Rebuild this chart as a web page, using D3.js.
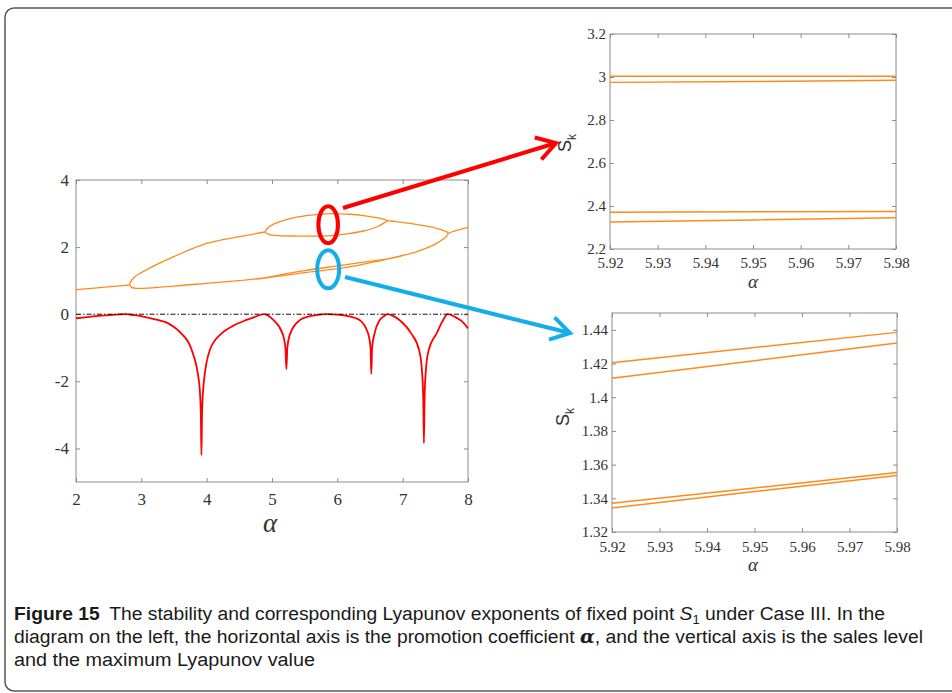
<!DOCTYPE html>
<html>
<head>
<meta charset="utf-8">
<script src="https://cdn.jsdelivr.net/npm/d3@7"></script>
<style>
  body { margin: 0; background: #fff; }
</style>
</head>
<body>
<div id="fig"></div>
<script>
var width = 952, height = 693;

// ---- left panel: bifurcation branches, [alpha, S_k]
var leadIn      = [[2, 0.73], [2.4, 0.80], [2.82, 0.87]];
var p2Upper     = [[2.82, 0.87], [2.84, 0.98], [2.9, 1.12], [3.0, 1.24], [3.2, 1.45], [3.49, 1.71], [4.0, 2.11], [4.5, 2.31], [4.89, 2.45]];
var p4UpTop     = [[4.89, 2.45], [4.95, 2.60], [5.05, 2.71], [5.17, 2.79], [5.4, 2.90], [5.68, 2.97], [5.95, 3.0], [6.19, 2.98], [6.4, 2.94], [6.6, 2.88], [6.72, 2.83], [6.77, 2.79]];
var p4UpBottom  = [[4.89, 2.45], [4.95, 2.38], [5.1, 2.34], [5.4, 2.33], [5.7, 2.33], [5.95, 2.35], [6.2, 2.41], [6.4, 2.48], [6.6, 2.60], [6.77, 2.79]];
var upperRight  = [[6.77, 2.79], [6.9, 2.76], [7.11, 2.71], [7.35, 2.63], [7.52, 2.56], [7.62, 2.50], [7.67, 2.46], [7.70, 2.41]];
var p2Lower     = [[2.82, 0.87], [2.85, 0.80], [2.93, 0.77], [3.5, 0.84], [4.0, 0.92], [4.5, 1.00], [4.89, 1.08]];
var p4LowA      = [[4.89, 1.08], [5.2, 1.20], [5.5, 1.30], [5.95, 1.425], [6.3, 1.52], [6.55, 1.59], [6.76, 1.64]];
var p4LowB      = [[4.89, 1.08], [5.2, 1.16], [5.5, 1.24], [5.95, 1.345], [6.3, 1.45], [6.55, 1.55], [6.76, 1.64]];
var lowerRight  = [[6.76, 1.64], [7.0, 1.75], [7.21, 1.86], [7.4, 2.00], [7.52, 2.11], [7.62, 2.24], [7.67, 2.32], [7.70, 2.41]];
var tail        = [[7.70, 2.41], [7.75, 2.45], [7.85, 2.51], [8, 2.59]];

// ---- left panel: maximum Lyapunov exponent, [alpha, lambda]
var lyap = [[2, -0.12], [2.2, -0.08], [2.4, -0.04], [2.6, -0.01], [2.75, 0], [2.9, -0.03], [3.1, -0.1], [3.25, -0.17],
  [3.39, -0.25], [3.5, -0.38], [3.61, -0.57], [3.77, -1.06], [3.885, -2.05], [3.91, -2.9], [3.92, -4.2], [3.93, -2.9],
  [3.955, -2.05], [4.05, -1.06], [4.23, -0.57], [4.4, -0.35], [4.61, -0.17], [4.75, -0.07], [4.88, 0],
  [4.95, -0.05], [5.02, -0.17], [5.16, -0.57], [5.205, -1.0], [5.22, -1.64], [5.235, -1.0], [5.28, -0.57], [5.43, -0.17],
  [5.55, -0.07], [5.7, -0.02], [5.83, 0], [6.0, -0.01], [6.15, -0.05], [6.34, -0.17], [6.47, -0.57], [6.508, -1.0],
  [6.52, -1.78], [6.532, -1.0], [6.57, -0.57], [6.65, -0.17], [6.72, -0.05], [6.77, 0], [6.85, -0.05], [6.95, -0.17],
  [7.13, -0.57], [7.25, -1.06], [7.29, -1.56], [7.315, -2.5], [7.325, -3.84], [7.335, -2.5], [7.36, -1.56], [7.40, -1.06],
  [7.52, -0.57], [7.62, -0.17], [7.69, 0], [7.8, -0.08], [7.9, -0.2], [8, -0.42]];

// ---- zoomed panels
var zoomAlpha = [5.92, 5.95, 5.98];
var topLines  = [[3.003, 3.003, 3.004], [2.975, 2.979, 2.985], [2.371, 2.373, 2.375], [2.326, 2.335, 2.345]];
var botLines  = [[1.4205, 1.4295, 1.4385], [1.4112, 1.4217, 1.4322], [1.3370, 1.3461, 1.3553], [1.3343, 1.3440, 1.3536]];

// ---- ticks
var leftTicksX = [2, 3, 4, 5, 6, 7, 8];
var leftTicksY = [4, 2, 0, -2, -4];
var zoomTicksX = [5.92, 5.93, 5.94, 5.95, 5.96, 5.97, 5.98];
var topTicksY  = [2.2, 2.4, 2.6, 2.8, 3, 3.2];
var botTicksY  = [1.32, 1.34, 1.36, 1.38, 1.4, 1.42, 1.44];

var orange = "#ff8a1c", red = "#ff0000", blue = "#12aee8";
var serif = "'Liberation Serif', 'Times New Roman', serif";
var sans = "'Liberation Sans', Arial, sans-serif";

var svg = d3.select("#fig").append("svg")
    .attr("width", width)
    .attr("height", height);

// figure frame
svg.append("rect")
    .attr("x", 5).attr("y", 8)
    .attr("width", 980).attr("height", 683)
    .attr("rx", 9)
    .attr("fill", "none")
    .attr("stroke", "#5a5a5a")
    .attr("stroke-width", 1.5);

var fmt = function(d) { return String(+d.toFixed(2)); };

function makePanel(box, xDom, yDom, xTicks, yTicks, fs, padX, padY) {
    var x = d3.scaleLinear().domain(xDom).range([box.left, box.right]);
    var y = d3.scaleLinear().domain(yDom).range([box.bottom, box.top]);
    var g = svg.append("g");
    var t = 4;

    g.append("g").attr("transform", "translate(0," + box.bottom + ")")
        .call(d3.axisBottom(x).tickValues(xTicks).tickSizeInner(-t).tickSizeOuter(0).tickPadding(padX).tickFormat(fmt));
    g.append("g").attr("transform", "translate(0," + box.top + ")")
        .call(d3.axisTop(x).tickValues(xTicks).tickSizeInner(-t).tickSizeOuter(0).tickFormat(""));
    g.append("g").attr("transform", "translate(" + box.left + ",0)")
        .call(d3.axisLeft(y).tickValues(yTicks).tickSizeInner(-t).tickSizeOuter(0).tickPadding(padY).tickFormat(fmt));
    g.append("g").attr("transform", "translate(" + box.right + ",0)")
        .call(d3.axisRight(y).tickValues(yTicks).tickSizeInner(-t).tickSizeOuter(0).tickFormat(""));

    g.selectAll(".domain").remove();
    g.selectAll(".tick line").attr("stroke", "#8c8c8c");
    g.selectAll(".tick text")
        .attr("fill", "#333")
        .style("font-family", serif)
        .style("font-size", fs + "px");

    g.append("rect")
        .attr("x", box.left).attr("y", box.top)
        .attr("width", box.right - box.left)
        .attr("height", box.bottom - box.top)
        .attr("fill", "none")
        .attr("stroke", "#8c8c8c")
        .attr("stroke-width", 1);

    return { x: x, y: y, g: g };
}

// ---------- left panel ----------
var L = makePanel({ left: 76, right: 468, top: 180, bottom: 482 }, [2, 8], [-5, 4],
    leftTicksX, leftTicksY, 17, 11, 7);

var lineL = d3.line()
    .x(function(d) { return L.x(d[0]); })
    .y(function(d) { return L.y(d[1]); })
    .curve(d3.curveCatmullRom.alpha(0.5));

var branches = [leadIn, p2Upper, p4UpTop, p4UpBottom, upperRight, p2Lower, p4LowA, p4LowB, lowerRight, tail];

L.g.selectAll(".branch")
    .data(branches)
    .enter().append("path")
    .attr("class", "branch")
    .attr("d", lineL)
    .attr("fill", "none")
    .attr("stroke", orange)
    .attr("stroke-width", 1.3);

L.g.append("path")
    .datum(lyap)
    .attr("d", d3.line()
        .x(function(d) { return L.x(d[0]); })
        .y(function(d) { return L.y(d[1]); })
        .curve(d3.curveMonotoneX))
    .attr("fill", "none")
    .attr("stroke", red)
    .attr("stroke-width", 1.8);

L.g.append("line")
    .attr("x1", L.x(2)).attr("x2", L.x(8))
    .attr("y1", L.y(0)).attr("y2", L.y(0))
    .attr("stroke", "#111")
    .attr("stroke-width", 1)
    .attr("stroke-dasharray", "5,2,1.5,2");

svg.append("text")
    .attr("x", L.x(5) - 2).attr("y", 532)
    .attr("text-anchor", "middle")
    .style("font-family", serif)
    .style("font-style", "italic")
    .style("font-size", "27px")
    .attr("fill", "#333")
    .text("α");

// ---------- right panels ----------
var T = makePanel({ left: 610, right: 896, top: 34, bottom: 249 }, [5.92, 5.98], [2.2, 3.2],
    zoomTicksX, topTicksY, 15, 8, 4);
var B = makePanel({ left: 612, right: 897, top: 313, bottom: 532 }, [5.92, 5.98], [1.32, 1.45],
    zoomTicksX, botTicksY, 15, 9, 4);

function drawZoom(P, lines) {
    var ln = d3.line()
        .x(function(d, i) { return P.x(zoomAlpha[i]); })
        .y(function(d) { return P.y(d); });
    P.g.selectAll(".zl")
        .data(lines)
        .enter().append("path")
        .attr("class", "zl")
        .attr("d", ln)
        .attr("fill", "none")
        .attr("stroke", orange)
        .attr("stroke-width", 1.5);
}
drawZoom(T, topLines);
drawZoom(B, botLines);

function skLabel(cx, cy) {
    var t = svg.append("text")
        .attr("transform", "translate(" + cx + "," + cy + ") rotate(-90)")
        .attr("text-anchor", "middle")
        .attr("fill", "#333")
        .style("font-family", sans)
        .style("font-size", "18px");
    t.append("tspan").text("S");
    t.append("tspan").attr("dy", 5).style("font-size", "12px").text("k");
}
skLabel(571, 143);
skLabel(569, 417);

[[753, 288], [753, 571]].forEach(function(p) {
    svg.append("text")
        .attr("x", p[0]).attr("y", p[1])
        .attr("text-anchor", "middle")
        .style("font-family", serif)
        .style("font-style", "italic")
        .style("font-size", "19px")
        .attr("fill", "#333")
        .text("α");
});

// ---------- annotations ----------
function arrow(x1, y1, x2, y2, color) {
    svg.append("line")
        .attr("x1", x1).attr("y1", y1).attr("x2", x2).attr("y2", y2)
        .attr("stroke", color).attr("stroke-width", 4).attr("stroke-linecap", "butt");
    var a = Math.atan2(y2 - y1, x2 - x1), len = 22, s = 0.55;
    var p1 = [x2 - len * Math.cos(a - s), y2 - len * Math.sin(a - s)];
    var p2 = [x2 - len * Math.cos(a + s), y2 - len * Math.sin(a + s)];
    svg.append("path")
        .attr("d", "M" + p1 + "L" + [x2, y2] + "L" + p2)
        .attr("fill", "none")
        .attr("stroke", color).attr("stroke-width", 4)
        .attr("stroke-linejoin", "miter");
}

svg.append("ellipse")
    .attr("cx", L.x(5.86)).attr("cy", L.y(2.67))
    .attr("rx", 9.8).attr("ry", 18.5)
    .attr("fill", "none").attr("stroke", red).attr("stroke-width", 4);
arrow(343, 208, 556, 143, red);

svg.append("ellipse")
    .attr("cx", L.x(5.86)).attr("cy", L.y(1.34))
    .attr("rx", 11).attr("ry", 19)
    .attr("fill", "none").attr("stroke", blue).attr("stroke-width", 4);
arrow(345, 277, 570, 333, blue);

// ---------- caption ----------
var cap = svg.append("g").attr("fill", "#1a1a1a");

function capText(y, len) {
    return cap.append("text").attr("x", 14).attr("y", y)
        .attr("textLength", len).attr("lengthAdjust", "spacingAndGlyphs")
        .style("font-family", sans)
        .style("font-size", "18px");
}

var c1 = capText(620, 871);
c1.append("tspan").style("font-weight", "bold").text("Figure 15");
c1.append("tspan").text("\u2002The stability and corresponding Lyapunov exponents of fixed point ");
c1.append("tspan").style("font-style", "italic").text("S");
c1.append("tspan").attr("dy", 4).style("font-size", "12px").text("1");
c1.append("tspan").attr("dy", -4).text(" under Case III. In the");

var c2 = capText(643, 909);
c2.append("tspan").text("diagram on the left, the horizontal axis is the promotion coefficient ");
c2.append("tspan").style("font-style", "italic").style("font-weight", "bold").style("font-family", "'DejaVu Serif', serif").text("α");
c2.append("tspan").text(", and the vertical axis is the sales level");

capText(666, 301).text("and the maximum Lyapunov value");
</script>
</body>
</html>
